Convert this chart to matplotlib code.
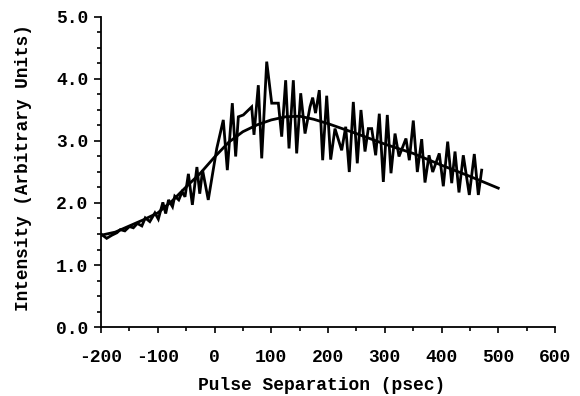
import matplotlib
matplotlib.use("Agg")
import matplotlib.pyplot as plt
from matplotlib.ticker import MultipleLocator

# Measured (noisy) trace: pulse separation (psec) and intensity
meas_x = [-200, -190, -181, -172, -166, -158, -150, -143, -136, -128, -122, -114,
          -105, -99, -91, -86, -81, -74, -70, -63, -57, -52, -46, -39, -31, -26,
          -21, -11, 4, 15.5, 22.6, 31.4, 37.3, 42.0, 50.8, 65.5, 69.6, 77.2, 83.2,
          92.0, 100.8, 112.5, 118.4, 125.4, 131.3, 138.9, 144.8, 151.9, 159.5,
          168.3, 173, 178, 184.7, 190.6, 197.7, 204.7, 212.3, 224.1, 231.2, 237.5,
          244.6, 251.6, 258.1, 265.2, 271.0, 277.0, 284.0, 290.4, 297.5, 304.5,
          311.0, 318.1, 325.1, 337.4, 343.3, 350.3, 357.4, 365.1, 370.9, 378.0,
          384.5, 396.1, 403.2, 410.9, 418.0, 423.8, 430.8, 438.4, 449.0, 457.8,
          464.9, 470.8]
meas_y = [1.50, 1.43, 1.48, 1.52, 1.57, 1.55, 1.62, 1.60, 1.67, 1.63, 1.76, 1.70,
          1.84, 1.74, 2.01, 1.83, 2.05, 1.94, 2.11, 2.05, 2.18, 2.10, 2.47, 1.97,
          2.58, 2.15, 2.53, 2.05, 2.88, 3.34, 2.53, 3.61, 2.75, 3.39, 3.42, 3.55,
          3.10, 3.90, 2.72, 4.28, 3.61, 3.61, 3.07, 3.98, 2.88, 3.98, 2.80, 3.77,
          3.12, 3.55, 3.70, 3.45, 3.82, 2.69, 3.73, 2.70, 3.20, 2.85, 3.23, 2.50,
          3.63, 2.64, 3.50, 2.83, 3.20, 3.20, 2.77, 3.44, 2.34, 3.42, 2.48, 3.12,
          2.75, 3.04, 2.69, 3.33, 2.50, 3.03, 2.33, 2.77, 2.50, 2.80, 2.27, 2.99,
          2.32, 2.83, 2.17, 2.77, 2.13, 2.79, 2.13, 2.53]

# Fitted smooth curve
fit_x = [-200, -175, -150, -125, -100, -75, -50, -25, 0, 25, 50, 75, 100, 125,
         150, 175, 200, 250, 300, 350, 400, 450, 500]
fit_y = [1.48, 1.53, 1.63, 1.73, 1.84, 2.03, 2.26, 2.48, 2.74, 2.98, 3.15, 3.26,
         3.34, 3.39, 3.40, 3.35, 3.28, 3.12, 2.95, 2.80, 2.61, 2.43, 2.24]

x_ticks = [-200, -100, 0, 100, 200, 300, 400, 500, 600]
y_ticks = [0.0, 1.0, 2.0, 3.0, 4.0, 5.0]

font = "Liberation Mono"

fig = plt.figure(figsize=(5.8, 3.96), dpi=100)
ax = fig.add_axes([101/580, 69/396, 454/580, 310/396])

ax.plot(meas_x, meas_y, color="black", lw=2.0, solid_joinstyle="miter")
ax.plot(fit_x, fit_y, color="black", lw=2.0)

ax.set_xlim(-200, 600)
ax.set_ylim(0, 5)
ax.set_xticks(x_ticks)
ax.set_yticks(y_ticks)
ax.set_xticklabels([str(v) for v in x_ticks])
ax.set_yticklabels([f"{v:.1f}" for v in y_ticks])
ax.xaxis.set_minor_locator(MultipleLocator(50))
ax.yaxis.set_minor_locator(MultipleLocator(0.25))

for s in ["top", "right"]:
    ax.spines[s].set_visible(False)
for s in ["left", "bottom"]:
    ax.spines[s].set_linewidth(1.3)

ax.tick_params(axis="both", which="both", direction="out", width=1.2, color="black")
ax.tick_params(axis="x", which="major", length=4, pad=12)
ax.tick_params(axis="x", which="minor", length=3)
ax.tick_params(axis="y", which="major", length=5, pad=4)
ax.tick_params(axis="y", which="minor", length=3)

for lab in ax.get_xticklabels() + ax.get_yticklabels():
    lab.set_fontfamily(font)
    lab.set_fontsize(13)
    lab.set_fontweight("bold")

ax.set_xlabel("Pulse Separation (psec)", fontfamily=font, fontsize=13,
              fontweight="bold")
ax.set_ylabel("Intensity (Arbitrary Units)", fontfamily=font, fontsize=12.8,
              fontweight="bold")
ax.xaxis.set_label_coords((322 - 101) / 454, -(385 - 327) / 310)
ax.yaxis.set_label_coords(-(101 - 24) / 454, (327 - 168) / 310)
ax.xaxis.label.set_verticalalignment("center")
ax.yaxis.label.set_verticalalignment("center")

fig.savefig("out.png", dpi=100, facecolor="white")
